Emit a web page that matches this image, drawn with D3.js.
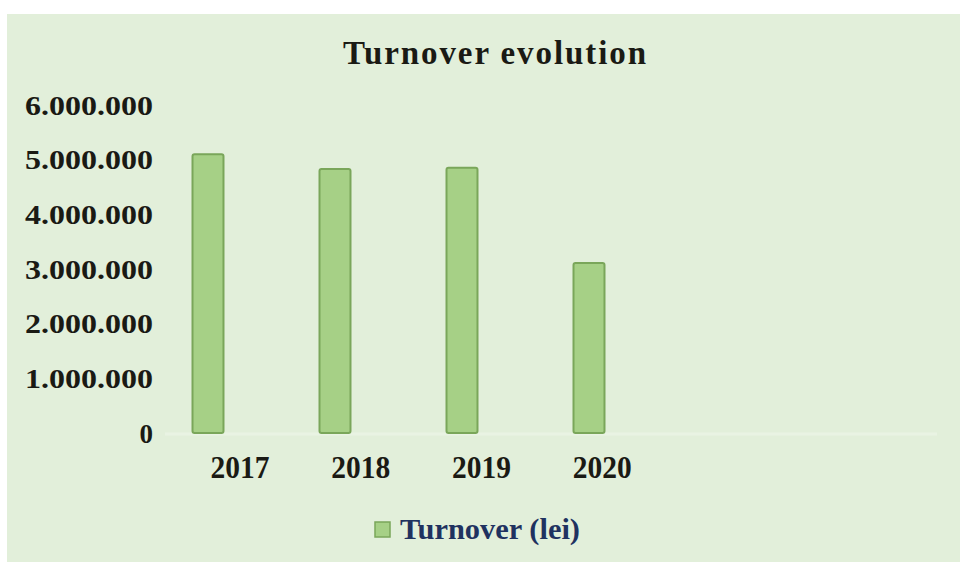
<!DOCTYPE html>
<html>
<head>
<meta charset="utf-8">
<script src="https://cdn.jsdelivr.net/npm/d3@7"></script>
<style>
  html, body { margin: 0; padding: 0; background: #ffffff; }
  svg { display: block; }
  svg text { font-family: "Liberation Serif", "Times New Roman", serif; font-weight: bold; }
</style>
</head>
<body>
<svg id="chart" width="960" height="562"></svg>
<script>
const years = ["2017", "2018", "2019", "2020"];
const turnover = [5100000, 4830000, 4850000, 3110000];
const yTicks = [0, 1000000, 2000000, 3000000, 4000000, 5000000, 6000000];
const yTickLabels = ["0", "1.000.000", "2.000.000", "3.000.000", "4.000.000", "5.000.000", "6.000.000"];
const seriesName = "Turnover (lei)";
const chartTitle = "Turnover evolution";

const svg = d3.select("#chart");

// background panel
svg.append("rect").attr("x", 7).attr("y", 14).attr("width", 953).attr("height", 548)
  .attr("fill", "#e2efda");

const y = d3.scaleLinear().domain([0, 6000000]).range([433, 105]);
const x = d3.scaleBand().domain(years).range([144.5, 652.5]).paddingInner(0.756).paddingOuter(0.378);
const xLab = d3.scaleBand().domain(years).range([179.5, 662.5]).padding(0);

// faint baseline
svg.append("line").attr("x1", 165).attr("x2", 937).attr("y1", y(0) + 1).attr("y2", y(0) + 1)
  .attr("stroke", "#e9f3e3").attr("stroke-width", 3);

// title
svg.append("text").attr("x", 494.5).attr("y", 64).attr("text-anchor", "middle")
  .style("font-size", "33px")
  .attr("fill", "#1a1a14")
  .attr("textLength", 303).attr("lengthAdjust", "spacing")
  .text(chartTitle);

// y axis labels
const yAxis = d3.axisLeft(y).tickValues(yTicks).tickSize(0).tickPadding(0)
  .tickFormat((d, i) => yTickLabels[i]);
const gy = svg.append("g").attr("transform", "translate(153,0)").call(yAxis);
gy.select(".domain").remove();
gy.attr("font-family", null).attr("font-size", null);
gy.selectAll("text")
  .style("font-size", "27px")
  .attr("fill", "#1a1a14").attr("dy", "0.34em")
  .each(function(d, i) {
    if (yTickLabels[i].length > 1) {
      d3.select(this).attr("textLength", 128).attr("lengthAdjust", "spacingAndGlyphs");
    }
  });

// bars
svg.append("g").selectAll("rect").data(years).join("rect")
  .attr("x", d => x(d))
  .attr("y", (d, i) => y(turnover[i]))
  .attr("width", x.bandwidth())
  .attr("height", (d, i) => y(0) - y(turnover[i]))
  .attr("rx", 2).attr("ry", 2)
  .attr("fill", "#a6d086")
  .attr("stroke", "#7aa65a").attr("stroke-width", 2);

// x labels
const xAxis = d3.axisBottom(xLab).tickSize(0).tickPadding(0);
const gx = svg.append("g").attr("transform", "translate(0,478)").call(xAxis);
gx.select(".domain").remove();
gx.attr("font-family", null).attr("font-size", null);
gx.selectAll("text")
  .style("font-size", "31px")
  .attr("fill", "#1a1a14").attr("dy", 0)
  .attr("textLength", 59).attr("lengthAdjust", "spacingAndGlyphs");

// legend
const lg = svg.append("g");
lg.append("rect").attr("x", 375).attr("y", 522).attr("width", 15).attr("height", 15)
  .attr("fill", "#a6d086").attr("stroke", "#7aa65a").attr("stroke-width", 1.5);
lg.append("text").attr("x", 400).attr("y", 539)
  .style("font-size", "30px")
  .attr("fill", "#1f3260")
  .attr("textLength", 180).attr("lengthAdjust", "spacingAndGlyphs")
  .text(seriesName);
</script>
</body>
</html>
